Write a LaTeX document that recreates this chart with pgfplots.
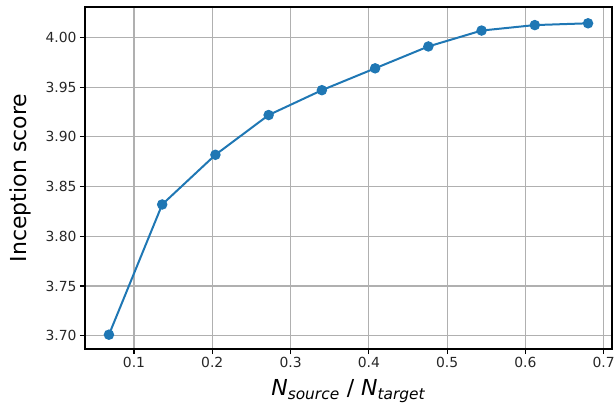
\documentclass[border=0pt]{standalone}
\usepackage{fontspec}
\setmainfont{DejaVu Sans}
\usepackage{pgfplots}
\pgfplotsset{compat=1.18}
\definecolor{mplblue}{HTML}{1F77B4}
\definecolor{mplgrid}{HTML}{B0B0B0}

\begin{document}
\begin{tikzpicture}
\begin{axis}[
    at={(0,0)}, anchor=south west,
    scale only axis,
    width=527bp, height=342bp,
    xmin=0.0374, xmax=0.7106,
    ymin=3.6866, ymax=4.0307,
    xtick={0.1,0.2,0.3,0.4,0.5,0.6,0.7},
    ytick={3.70,3.75,3.80,3.85,3.90,3.95,4.00},
    xticklabel style={/pgf/number format/.cd,fixed,fixed zerofill,precision=1},
    yticklabel style={/pgf/number format/.cd,fixed,fixed zerofill,precision=2},
    /pgf/number format/assume math mode=true,
    ticklabel style={font=\fontsize{13.9bp}{16bp}\selectfont, text=black!85},
    tick align=outside,
    xtick pos=bottom, ytick pos=left,
    major tick length=5bp,
    tick style={black, line width=1.1bp},
    axis line style={black, line width=1.1bp},
    grid=major,
    grid style={mplgrid, line width=1.1bp},
    xlabel={\textit{N}\textsubscript{\textit{source}} / \textit{N}\textsubscript{\textit{target}}},
    ylabel={Inception score},
    label style={font=\fontsize{22bp}{26bp}\selectfont},
    xlabel style={yshift=-5bp},
    ylabel style={yshift=8bp},
]
\addplot[mplblue, line width=2bp, mark=*, mark size=4.2bp,
         mark options={fill=mplblue, draw=mplblue}]
coordinates {
(0.068, 3.701) (0.136, 3.832) (0.204, 3.882) (0.272, 3.922) (0.340, 3.947)
(0.408, 3.969) (0.476, 3.991) (0.544, 4.007) (0.612, 4.0125) (0.680, 4.0143)
};
\end{axis}
\pgfresetboundingbox
\path (-85bp,-65bp) rectangle (530bp,349bp);
\end{tikzpicture}
\end{document}
